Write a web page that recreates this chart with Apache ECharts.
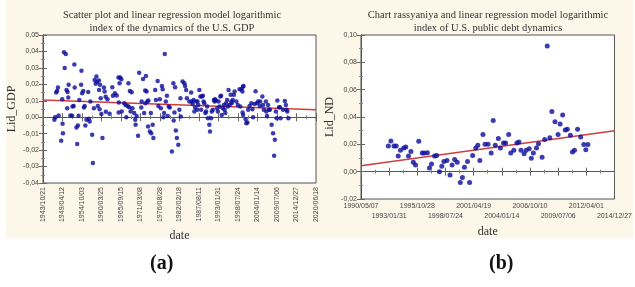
<!DOCTYPE html>
<html><head><meta charset="utf-8">
<script src="https://cdn.jsdelivr.net/npm/echarts@6/dist/echarts.min.js"></script>
<style>html,body{margin:0;padding:0;background:#fff}#c{width:635px;height:287px}</style>
</head><body><div id="c"></div>
<script>
// ---------- Panel (a): log index of U.S. GDP dynamics ----------
const gdpYears = [
1947.0,1947.3,1947.5,1947.75,1948.0,1948.2,1948.9,1949.2,1949.3,1949.4,1949.7,1949.9,1950.2,1950.4,1950.6,1950.7,1950.9,1951.0,1951.5,1952.0,
1952.1,1952.4,1952.6,1952.7,1953.2,1953.4,1953.6,1953.8,1954.0,1954.5,1954.6,1954.8,1955.1,1955.3,1955.5,1955.7,1956.0,1956.5,1956.7,1956.9,
1957.1,1957.6,1957.8,1958.1,1958.3,1958.6,1958.8,1959.0,1959.2,1959.5,1959.55,1959.7,1959.8,1960.0,1960.2,1960.5,1960.9,1961.1,1961.4,1961.45,
1961.9,1962.5,1963.26,1963.45,1964.0,1964.5,1965.0,1965.05,1965.1,1965.3,1965.5,1965.8,1965.9,1966.6,1967.0,1967.2,1967.6,1967.8,1968.0,1968.2,
1968.4,1968.7,1968.9,1969.4,1969.7,1969.8,1970.1,1970.5,1970.8,1971.4,1971.5,1971.9,1972.2,1972.5,1972.55,1972.7,1972.9,1973.1,1973.3,1973.4,
1973.8,1974.1,1974.2,1974.6,1974.8,1975.3,1975.5,1976.0,1976.2,1976.6,1976.9,1977.2,1977.4,1977.6,1977.8,1978.0,1978.3,1978.6,1978.8,1979.1,
1979.4,1980.0,1980.4,1980.5,1980.7,1980.9,1981.1,1981.4,1981.8,1982.1,1982.4,1982.5,1983.0,1983.5,1983.7,1984.0,1984.2,1984.9,1985.4,1985.6,
1985.8,1986.1,1986.3,1986.5,1986.8,1987.1,1987.2,1987.4,1987.7,1988.0,1988.2,1988.4,1988.7,1988.9,1989.1,1989.4,1989.6,1989.9,1990.1,1990.5,
1990.7,1991.0,1991.2,1991.5,1991.8,1992.0,1992.1,1992.4,1992.7,1992.9,1993.1,1993.4,1993.6,1993.8,1994.0,1994.3,1994.6,1994.8,1995.0,1995.2,
1995.5,1995.7,1995.9,1996.2,1996.5,1996.7,1996.8,1997.1,1997.4,1997.6,1998.1,1998.5,1999.0,1999.2,1999.5,1999.8,1999.85,1999.95,2000.0,2000.1,
2000.7,2000.9,2001.2,2001.4,2001.8,2002.3,2002.6,2002.8,2003.2,2003.5,2003.9,2004.2,2004.7,2004.8,2005.4,2005.6,2005.8,2006.4,2006.5,2006.7,
2007.0,2007.3,2007.5,2008.0,2008.4,2008.7,2008.9,2009.2,2009.4,2009.6,2010.1,2010.3,2010.5,2011.2,2011.7,2012.0,2012.2,2012.4,2012.7
];
const gdpValues = [
-0.0016,0.0000,0.0150,0.0160,0.0180,0.0010,-0.0143,0.0110,-0.0040,-0.0097,0.0395,0.0300,0.0385,0.0166,0.0055,0.0154,0.0120,0.0197,0.0010,0.0009,
0.0065,0.0069,0.0320,0.0180,-0.0063,-0.0163,-0.0050,0.0009,0.0105,0.0197,0.0282,0.0146,0.0160,0.0059,0.0069,-0.0050,-0.0016,0.0154,-0.0010,-0.0026,
0.0095,-0.0107,-0.0279,0.0055,0.0227,0.0203,0.0247,0.0216,0.0069,0.0223,0.0166,0.0049,0.0197,0.0116,0.0020,-0.0127,0.0180,0.0156,0.0125,0.0034,
0.0110,0.0021,0.0182,0.0130,0.0146,0.0132,0.0241,0.0029,0.0089,0.0207,0.0241,0.0231,0.0035,0.0085,0.0075,0.0000,0.0069,0.0207,0.0061,0.0160,
0.0035,0.0152,0.0055,0.0025,-0.0016,-0.0046,0.0008,-0.0113,0.0271,0.0059,0.0095,0.0233,0.0025,0.0162,0.0085,0.0251,0.0156,0.0095,-0.0056,0.0101,
-0.0087,0.0025,-0.0097,-0.0046,-0.0127,0.0166,0.0105,0.0221,0.0069,0.0109,0.0055,0.0190,0.0170,0.0000,0.0025,0.0385,0.0095,0.0130,0.0008,0.0065,
0.0059,-0.0208,0.0207,-0.0020,0.0029,0.0182,-0.0081,-0.0127,-0.0168,0.0045,0.0116,0.0004,0.0217,0.0207,0.0190,0.0166,0.0116,0.0095,0.0150,0.0095,
0.0081,0.0105,0.0035,0.0059,0.0095,0.0045,0.0095,0.0075,0.0166,0.0126,0.0045,0.0126,0.0130,0.0095,0.0085,0.0025,0.0035,0.0065,-0.0006,-0.0046,
-0.0087,-0.0006,0.0035,0.0045,0.0105,0.0095,0.0109,0.0101,0.0055,0.0035,0.0095,0.0065,0.0126,0.0130,0.0014,0.0055,0.0075,0.0045,0.0025,0.0085,
0.0105,0.0065,0.0166,0.0075,0.0136,0.0095,0.0085,0.0105,0.0136,0.0156,0.0095,0.0075,0.0170,0.0065,0.0170,0.0156,0.0029,0.0186,0.0014,0.0190,
-0.0012,-0.0036,-0.0032,0.0045,0.0069,0.0085,0.0049,0.0000,0.0081,0.0158,0.0085,0.0095,0.0069,0.0095,0.0126,0.0075,0.0045,0.0095,0.0035,0.0008,
0.0075,0.0045,0.0045,-0.0046,-0.0097,-0.0234,-0.0137,0.0035,-0.0006,0.0101,0.0061,0.0061,-0.0006,0.0045,0.0099,0.0075,0.0045,0.0035,-0.0006
];
const gdpTrend = [0.0105, 0.0045];          // regression line at axis start / end
const gdpAxisStart = [1943, 10, 21];        // first date tick
const gdpTickDays = 2000, gdpAxisDays = 28000;
const gdpYTicks = {min: -0.04, max: 0.05, step: 0.01};

// ---------- Panel (b): log index of U.S. public debt dynamics ----------
const debtYears = [
1993.0,1993.25,1993.55,1993.77,1993.96,1994.18,1994.5,1994.7,1994.96,1995.2,1995.43,1995.65,1995.96,1996.3,1996.5,1996.8,1997.0,1997.2,1997.5,1997.7,
1997.97,1998.2,1998.4,1998.7,1999.0,1999.2,1999.45,1999.7,2000.0,2000.2,2000.4,2000.7,2000.9,2001.2,2001.5,2001.7,2001.9,2002.2,2002.4,2002.7,
2003.0,2003.2,2003.4,2003.7,2003.9,2004.2,2004.4,2004.7,2004.9,2005.2,2005.5,2005.7,2005.9,2006.2,2006.4,2006.7,2006.9,2007.1,2007.4,2007.6,
2007.95,2008.2,2008.45,2008.7,2008.9,2009.2,2009.5,2009.7,2009.95,2010.2,2010.4,2010.7,2010.9,2011.1,2011.4,2011.7,2012.0,2012.2,2012.4
];
const debtValues = [
0.0188,0.0225,0.0188,0.0188,0.0114,0.0156,0.0173,0.0180,0.0114,0.0148,0.0069,0.0049,0.0222,0.0136,0.0136,0.0138,0.0027,0.0057,0.0114,0.0119,
0.0000,0.0040,0.0074,0.0082,-0.0025,0.0049,0.0089,0.0069,-0.0079,-0.0042,0.0032,0.0074,-0.0079,0.0119,0.0173,0.0193,0.0082,0.0272,0.0200,0.0200,
0.0136,0.0375,0.0193,0.0242,0.0173,0.0210,0.0210,0.0272,0.0136,0.0156,0.0210,0.0217,0.0156,0.0131,0.0156,0.0168,0.0099,0.0136,0.0173,0.0205,
0.0106,0.0235,0.0920,0.0249,0.0440,0.0366,0.0272,0.0348,0.0415,0.0304,0.0311,0.0267,0.0143,0.0156,0.0311,0.0254,0.0198,0.0161,0.0198
];
const debtTrend = [0.0044, 0.0299];
const debtAxisStart = [1990, 5, 7];
const debtTickDays = 1000, debtAxisDays = 9000;
const debtYTicks = {min: -0.02, max: 0.10, step: 0.02};

// ---------- helpers ----------
const DAY = 86400000;
function startMs(a){ return Date.UTC(a[0], a[1]-1, a[2]); }
function yearToDays(y, origin){
  const Y = Math.floor(y), f = y - Y;
  const ms = Date.UTC(Y,0,1) + f*(Date.UTC(Y+1,0,1)-Date.UTC(Y,0,1));
  return (ms - startMs(origin))/DAY;
}
function pad(n){ return (n<10?'0':'')+n; }
function dayLabel(origin, d){
  const t = new Date(startMs(origin) + Math.round(d)*DAY);
  return t.getUTCFullYear()+'/'+pad(t.getUTCMonth()+1)+'/'+pad(t.getUTCDate());
}
function comma(v){ return (Math.abs(v)<1e-9?0:v).toFixed(2).replace('.', ','); }
function debtRow(v, odd){
  const k = Math.round(v/debtTickDays);
  return (k%2===1)===odd ? dayLabel(debtAxisStart, v) : '';
}

const gdpData = gdpYears.map((y,i)=>[yearToDays(y,gdpAxisStart), gdpValues[i]]);
const debtData = debtYears.map((y,i)=>[yearToDays(y,debtAxisStart), debtValues[i]]);

const labelFont = {fontFamily:'Liberation Sans', fontSize:7, color:'#444', showMinLabel:true, showMaxLabel:true};
const serif = 'Liberation Serif';
const frame = {lineStyle:{color:'#555', width:1}};
const tickIn = {inside:true, length:4, lineStyle:{color:'#666'}};
const minorIn = {show:true, splitNumber:2, length:2, lineStyle:{color:'#888'}};

const chart = echarts.init(document.getElementById('c'), null, {renderer:'canvas'});
chart.setOption({
  animation:false,
  backgroundColor:'#ffffff',
  graphic:[
    {type:'rect', z:-10, shape:{x:6, y:0, width:627, height:238}, style:{fill:'#fcf7e9'}},
    {type:'text', left:150, top:254, style:{text:'(a)', font:'bold 20px "Liberation Serif"', fill:'#111'}},
    {type:'text', left:489, top:254, style:{text:'(b)', font:'bold 20px "Liberation Serif"', fill:'#111'}}
  ],
  title:[
    {text:'Scatter plot and linear regression model logarithmic\nindex of the dynamics of the U.S. GDP', left:167, top:4, textAlign:'center',
     textStyle:{fontFamily:serif, fontSize:10.5, fontWeight:'normal', color:'#333', lineHeight:13}},
    {text:'Chart rassyaniya and linear regression model logarithmic\nindex of U.S. public debt dynamics', left:483, top:4, textAlign:'center',
     textStyle:{fontFamily:serif, fontSize:10.5, fontWeight:'normal', color:'#333', lineHeight:13}}
  ],
  grid:[
    {left:43, right:319, top:35, bottom:104, show:true, backgroundColor:'#ffffff', borderColor:'#555', borderWidth:1},
    {left:361, right:12, top:35, bottom:88, show:true, backgroundColor:'#ffffff', borderColor:'#555', borderWidth:1}
  ],
  xAxis:[
    {type:'value', gridIndex:0, min:0, max:gdpAxisDays, interval:gdpTickDays, name:'date', nameLocation:'middle', nameGap:42,
     nameTextStyle:{fontFamily:serif, fontSize:12, color:'#333'},
     axisLine:frame, axisTick:tickIn, minorTick:minorIn, splitLine:{show:false},
     axisLabel:Object.assign({rotate:90, margin:4, formatter:v=>dayLabel(gdpAxisStart,v)}, labelFont)},
    {type:'value', gridIndex:0, position:'top', min:0, max:gdpAxisDays, interval:gdpTickDays,
     axisLine:frame, axisTick:tickIn, minorTick:minorIn, splitLine:{show:false}, axisLabel:{show:false}},
    {type:'value', gridIndex:1, min:0, max:debtAxisDays, interval:debtTickDays, name:'date', nameLocation:'middle', nameGap:27,
     nameTextStyle:{fontFamily:serif, fontSize:12, color:'#333'},
     axisLine:frame, axisTick:tickIn, minorTick:minorIn, splitLine:{show:false},
     axisLabel:Object.assign({margin:4, formatter:v=>debtRow(v,false)}, labelFont)},
    {type:'value', gridIndex:1, position:'top', min:0, max:debtAxisDays, interval:debtTickDays,
     axisLine:frame, axisTick:tickIn, minorTick:minorIn, splitLine:{show:false}, axisLabel:{show:false}},
    {type:'value', gridIndex:1, position:'bottom', offset:10, min:0, max:debtAxisDays, interval:debtTickDays,
     axisLine:{show:false}, axisTick:{show:false}, splitLine:{show:false},
     axisLabel:Object.assign({margin:4, formatter:v=>debtRow(v,true)}, labelFont)}
  ],
  yAxis:[
    {type:'value', gridIndex:0, min:gdpYTicks.min, max:gdpYTicks.max, interval:gdpYTicks.step, name:'Lid_GDP', nameLocation:'middle', nameGap:25,
     nameTextStyle:{fontFamily:serif, fontSize:12, color:'#333'},
     axisLine:frame, axisTick:tickIn, minorTick:minorIn, splitLine:{show:false},
     axisLabel:Object.assign({margin:4, formatter:comma}, labelFont)},
    {type:'value', gridIndex:0, position:'right', min:gdpYTicks.min, max:gdpYTicks.max, interval:gdpYTicks.step,
     axisLine:frame, axisTick:tickIn, minorTick:minorIn, splitLine:{show:false}, axisLabel:{show:false}},
    {type:'value', gridIndex:1, min:debtYTicks.min, max:debtYTicks.max, interval:debtYTicks.step, name:'Lid_ND', nameLocation:'middle', nameGap:25,
     nameTextStyle:{fontFamily:serif, fontSize:12, color:'#333'},
     axisLine:frame, axisTick:tickIn, minorTick:minorIn, splitLine:{show:false},
     axisLabel:Object.assign({margin:4, formatter:comma}, labelFont)},
    {type:'value', gridIndex:1, position:'right', min:debtYTicks.min, max:debtYTicks.max, interval:debtYTicks.step,
     axisLine:frame, axisTick:tickIn, minorTick:minorIn, splitLine:{show:false}, axisLabel:{show:false}}
  ],
  series:[
    {type:'line', xAxisIndex:0, yAxisIndex:0, data:[[0,gdpTrend[0]],[gdpAxisDays,gdpTrend[1]]], symbol:'none',
     lineStyle:{color:'#d23c3c', width:1.5}, z:3},
    {type:'scatter', xAxisIndex:0, yAxisIndex:0, data:gdpData, symbolSize:4.5, itemStyle:{color:'#0b0b9a'}, z:4},
    {type:'line', xAxisIndex:2, yAxisIndex:2, data:[[0,debtTrend[0]],[debtAxisDays,debtTrend[1]]], symbol:'none',
     lineStyle:{color:'#d23c3c', width:1.5}, z:3},
    {type:'scatter', xAxisIndex:2, yAxisIndex:2, data:debtData, symbolSize:5, itemStyle:{color:'#0b0b9a'}, z:4}
  ]
});
</script>
</body></html>
